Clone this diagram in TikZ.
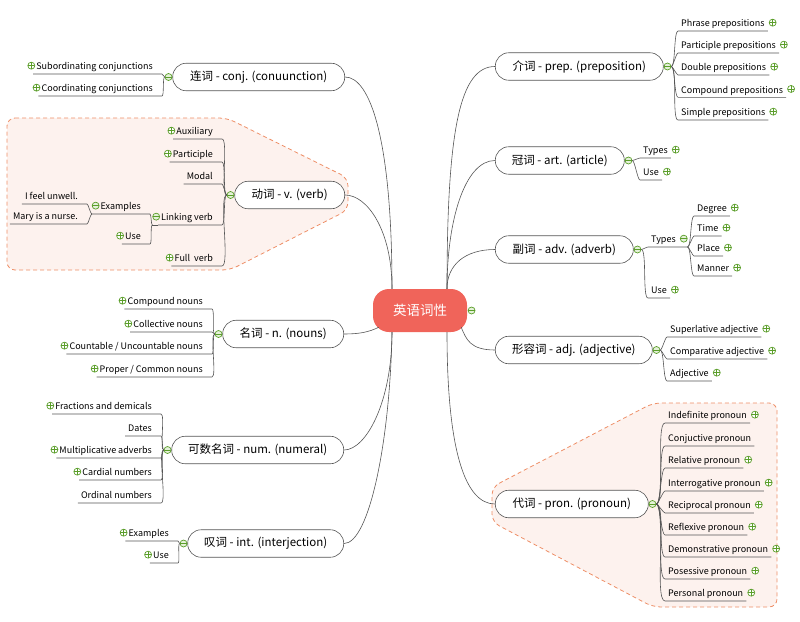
\documentclass[tikz,border=0pt]{standalone}
\usepackage{fontspec}
\setmainfont{Noto Sans CJK SC}
\usetikzlibrary{positioning}

\definecolor{rootcol}{HTML}{F0645A}
\definecolor{icongreen}{HTML}{5B9E2A}
\definecolor{iconfill}{HTML}{E4F1D8}
\definecolor{bndline}{HTML}{EE8E66}
\definecolor{bndfill}{HTML}{FDF2EE}
\definecolor{linegray}{HTML}{555555}

\tikzset{%
  root/.style={rectangle, rounded corners=16pt, fill=rootcol, text=white,
    minimum width=94pt, minimum height=43pt, font=\fontsize{13.5}{15}\selectfont},
  topic/.style={rectangle, rounded corners=13.5pt, draw=linegray, line width=0.6pt,
    fill=white, minimum height=27.5pt, inner xsep=6pt, font=\fontsize{11.5}{13}\selectfont},
  leaf/.style={inner xsep=3pt, inner ysep=1.5pt, text height=6.8pt, text depth=2.5pt,
    font=\fontsize{9}{10}\selectfont},
  branch/.style={draw=linegray, line width=0.6pt},
  elbowR/.style={out=0, in=180, looseness=0.3},
  elbowL/.style={out=180, in=0, looseness=0.3},
  bound/.style={draw=bndline, fill=bndfill, line width=0.8pt,
    dash pattern=on 4pt off 3pt, rounded corners=8pt},
  plusic/.style={circle, draw=icongreen, fill=white, line width=0.7pt,
    minimum size=7pt, inner sep=0pt,
    path picture={\draw[icongreen, line width=0.7pt]
      (path picture bounding box.west) -- (path picture bounding box.east)
      (path picture bounding box.north) -- (path picture bounding box.south);}},
  minusic/.style={circle, draw=icongreen, fill=iconfill, line width=0.7pt,
    minimum size=7pt, inner sep=0pt,
    path picture={\draw[icongreen, line width=0.7pt]
      (path picture bounding box.west) -- (path picture bounding box.east);}},
}

\begin{document}
\begin{tikzpicture}[x=1pt, y=-1pt]
  \useasboundingbox (0,0) rectangle (800,621);

  % dashed boundaries
  \draw[bound] (7,118) -- (227,118) -- (348,178) -- (348,210) -- (230,270) -- (7,270) -- cycle;
  \draw[bound] (492,487) -- (653,403) -- (777,403) -- (777,607) -- (653,607) -- (492,522) -- cycle;

  % central topic
  \node[root] (root) at (420,310.5) {英语词性};
  \node[minusic, right=0.5pt of root] (root-m) {};
  \coordinate (rt) at ([xshift=27pt]root.north);
  \coordinate (rb) at ([xshift=27pt]root.south);
  \coordinate (lt) at ([xshift=-28pt]root.north);
  \coordinate (lb) at ([xshift=-28pt]root.south);
  \coordinate (lw) at ([xshift=6pt,yshift=5pt]root.south west);
  \coordinate (rw) at ([xshift=-6pt,yshift=5pt]root.south east);

  % main topics, right
  \node[topic, anchor=west, minimum width=168pt] (prep) at (495,66.5) {介词 - prep. (preposition)};
  \node[topic, anchor=west, minimum width=129pt] (art) at (495,160.5) {冠词 - art. (article)};
  \node[topic, anchor=west, minimum width=138pt] (adv) at (495,249.5) {副词 - adv. (adverb)};
  \node[topic, anchor=west, minimum width=157pt] (adj) at (495,350) {形容词 - adj. (adjective)};
  \node[topic, anchor=west, minimum width=153pt] (pron) at (495,504) {代词 - pron. (pronoun)};
  % main topics, left
  \node[topic, anchor=east, minimum width=172pt] (conj) at (345,77) {连词 - conj. (conuunction)};
  \node[topic, anchor=east, minimum width=110pt] (verb) at (345,195) {动词 - v. (verb)};
  \node[topic, anchor=east, minimum width=121pt] (noun) at (344,334) {名词 - n. (nouns)};
  \node[topic, anchor=east, minimum width=172pt] (num) at (344,450) {可数名词 - num. (numeral)};
  \node[topic, anchor=east, minimum width=156pt] (intj) at (344,543.5) {叹词 - int. (interjection)};

  \foreach \n in {prep,art,adv,adj,pron}
    \node[minusic, right=0pt of \n] (\n-m) {};
  \foreach \n in {conj,verb,noun,num,intj}
    \node[minusic, left=0pt of \n] (\n-m) {};

  % root branches
  \draw[branch] (rt) .. controls +(0,-160) and +(-35,0) .. (prep.west);
  \draw[branch] (rt) .. controls +(0,-69) and +(-30,0) .. (art.west);
  \draw[branch] (rt) .. controls +(0,-24) and +(-30,0) .. (adv.west);
  \draw[branch] (rw) .. controls +(5,12) and +(-25,0) .. (adj.west);
  \draw[branch] (rb) .. controls +(0,118) and +(-30,0) .. (pron.west);
  \draw[branch] (lt) .. controls +(0,-150) and +(25,0) .. (conj.east);
  \draw[branch] (lt) .. controls +(0,-59) and +(22,0) .. (verb.east);
  \draw[branch] (lw) .. controls +(-10,5) and +(15,0) .. (noun.east);
  \draw[branch] (lb) .. controls +(0,70) and +(22,0) .. (num.east);
  \draw[branch] (lb) .. controls +(-2,110) and +(25,0) .. (intj.east);

  % preposition
  \foreach \t/\y/\p [count=\i] in {Phrase prepositions/31/1, Participle prepositions/53/1,
      Double prepositions/75/1, Compound prepositions/97.3/1, Simple prepositions/120/1}
  {
    \node[leaf, anchor=south west] (prep-\i) at (678,\y) {\t};
    \draw[branch] (prep-m.east) to[elbowR] (prep-\i.south west) -- (prep-\i.south east);
    \ifnum\p=1 \node[plusic, right=1pt of prep-\i, yshift=2pt] (prep-\i-p) {};\fi
  }
  % article
  \foreach \t/\y [count=\i] in {Types/158, Use/180}
  {
    \node[leaf, anchor=south west] (art-\i) at (640,\y) {\t};
    \draw[branch] (art-m.east) to[elbowR] (art-\i.south west) -- (art-\i.south east);
    \node[plusic, right=1pt of art-\i, yshift=2pt] (art-\i-p) {};
  }
  % adverb
  \node[leaf, anchor=south west] (adv-1) at (648,247) {Types};
  \node[minusic, right=1pt of adv-1, yshift=2pt] (adv-1-m) {};
  \draw[branch] (adv-m.east) to[elbowR] (adv-1.south west) -- (adv-1.south west -| adv-1-m.east);
  \node[leaf, anchor=south west] (adv-2) at (648,298) {Use};
  \node[plusic, right=1pt of adv-2, yshift=2pt] (adv-2-p) {};
  \draw[branch] (adv-m.east) to[elbowR] (adv-2.south west) -- (adv-2.south east);
  \foreach \t/\y [count=\i] in {Degree/216, Time/236, Place/256, Manner/276}
  {
    \node[leaf, anchor=south west] (advt-\i) at (694,\y) {\t};
    \node[plusic, right=1pt of advt-\i, yshift=2pt] (advt-\i-p) {};
    \draw[branch] (adv-1.south west -| adv-1-m.east) to[elbowR] (advt-\i.south west) -- (advt-\i.south east);
  }
  % adjective
  \foreach \t/\y [count=\i] in {Superlative adjective/337, Comparative adjective/359, Adjective/381}
  {
    \node[leaf, anchor=south west] (adj-\i) at (667,\y) {\t};
    \node[plusic, right=1pt of adj-\i, yshift=2pt] (adj-\i-p) {};
    \draw[branch] (adj-m.east) to[elbowR] (adj-\i.south west) -- (adj-\i.south east);
  }
  % pronoun
  \foreach \t/\y/\p [count=\i] in {Indefinite pronoun/423/1, Conjuctive pronoun/446/0,
      Relative pronoun/468/1, Interrogative pronoun/491/1, Reciprocal pronoun/513/1,
      Reflexive pronoun/535/1, Demonstrative pronoun/557/1, Posessive pronoun/579/1,
      Personal pronoun/601/1}
  {
    \node[leaf, anchor=south west] (pron-\i) at (665,\y) {\t};
    \draw[branch] (pron-m.east) to[elbowR] (pron-\i.south west) -- (pron-\i.south east);
    \ifnum\p=1 \node[plusic, right=1pt of pron-\i, yshift=2pt] (pron-\i-p) {};\fi
  }

  % conjunction
  \foreach \t/\y [count=\i] in {Subordinating conjunctions/74, Coordinating conjunctions/96}
  {
    \node[leaf, anchor=south east] (conj-\i) at (156,\y) {\t};
    \draw[branch] (conj-m.west) to[elbowL] ([xshift=6pt]conj-\i.south east) -- (conj-\i.south west);
    \node[plusic, left=-2pt of conj-\i, yshift=2pt] (conj-\i-p) {};
  }
  % verb
  \foreach \t/\y/\p [count=\i] in {Auxiliary/139/1, Participle/162/1, Modal/184/0,
      Linking verb/225/2, Full\ \ verb/266/1}
  {
    \node[leaf, anchor=south east] (verb-\i) at (216,\y) {\t};
    \draw[branch] (verb-m.west) to[elbowL] ([xshift=6pt]verb-\i.south east) -- (verb-\i.south west);
    \ifcase\p\or
      \node[plusic, left=-2pt of verb-\i, yshift=2pt] (verb-\i-p) {};
    \or
      \node[minusic, left=-2pt of verb-\i, yshift=2pt] (verb-\i-m) {};
      \draw[branch] (verb-\i.south west) -- (verb-\i.south west -| verb-\i-m.west);
    \fi
  }
  % linking verb
  \node[leaf, anchor=south east] (link-1) at (144,214) {Examples};
  \node[minusic, left=-2pt of link-1, yshift=2pt] (link-1-m) {};
  \draw[branch] (verb-4-m.west |- verb-4.south) to[elbowL] ([xshift=6pt]link-1.south east)
    -- (link-1.south west -| link-1-m.west);
  \node[leaf, anchor=south east] (link-2) at (144,244) {Use};
  \node[plusic, left=-2pt of link-2, yshift=2pt] (link-2-p) {};
  \draw[branch] (verb-4-m.west |- verb-4.south) to[elbowL] ([xshift=6pt]link-2.south east)
    -- (link-2.south west);
  % examples
  \foreach \t/\y [count=\i] in {I feel unwell./204, Mary is a nurse./224}
  {
    \node[leaf, anchor=south east] (exa-\i) at (81,\y) {\t};
    \draw[branch] (link-1-m.west |- link-1.south) to[elbowL] ([xshift=6pt]exa-\i.south east) -- (exa-\i.south west);
  }
  % nouns
  \foreach \t/\y [count=\i] in {Compound nouns/309, Collective nouns/332,
      {Countable / Uncountable nouns}/354, {Proper / Common nouns}/377}
  {
    \node[leaf, anchor=south east] (noun-\i) at (206,\y) {\t};
    \draw[branch] (noun-m.west) to[elbowL] ([xshift=6pt]noun-\i.south east) -- (noun-\i.south west);
    \node[plusic, left=-2pt of noun-\i, yshift=2pt] (noun-\i-p) {};
  }
  % numeral
  \foreach \t/\y/\p [count=\i] in {Fractions and demicals/414/1, Dates/436/0,
      Multiplicative adverbs/458/1, Cardial numbers/480/1, Ordinal numbers/503/0}
  {
    \node[leaf, anchor=south east] (num-\i) at (155,\y) {\t};
    \draw[branch] (num-m.west) to[elbowL] ([xshift=6pt]num-\i.south east) -- (num-\i.south west);
    \ifnum\p=1 \node[plusic, left=-2pt of num-\i, yshift=2pt] (num-\i-p) {};\fi
  }
  % interjection
  \foreach \t/\y [count=\i] in {Examples/541, Use/563}
  {
    \node[leaf, anchor=south east] (intj-\i) at (172,\y) {\t};
    \draw[branch] (intj-m.west) to[elbowL] ([xshift=6pt]intj-\i.south east) -- (intj-\i.south west);
    \node[plusic, left=-2pt of intj-\i, yshift=2pt] (intj-\i-p) {};
  }
\end{tikzpicture}
\end{document}
